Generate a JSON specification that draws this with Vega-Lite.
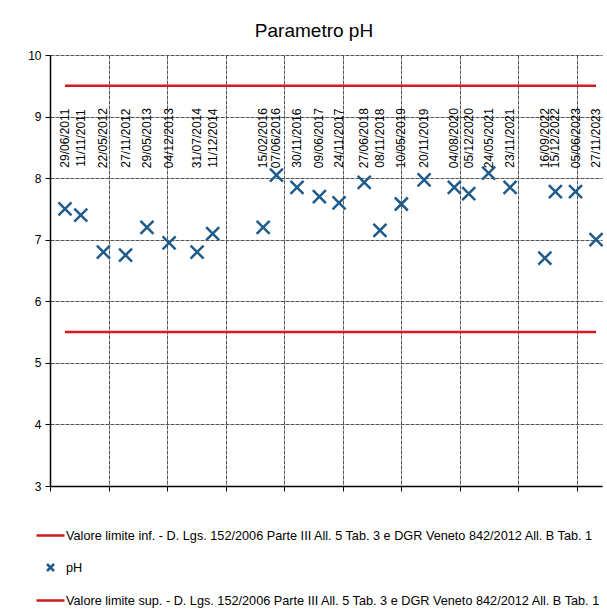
{
  "$schema": "https://vega.github.io/schema/vega-lite/v6.json",
  "width": 552,
  "height": 431,
  "autosize": {"type": "none"},
  "padding": {"left": 50, "top": 55, "right": 5, "bottom": 127},
  "background": "white",
  "title": {"text": "Parametro pH", "fontSize": 19, "font": "Liberation Sans", "fontWeight": "normal", "color": "black", "anchor": "middle", "dx": -12, "baseline": "alphabetic", "offset": 18, "dy": 25},
  "data": {
    "values": [
      {"date": "2011-06-29", "serie": "pH", "valore": 7.5},
      {"date": "2011-11-11", "serie": "pH", "valore": 7.4},
      {"date": "2012-05-22", "serie": "pH", "valore": 6.8},
      {"date": "2012-11-27", "serie": "pH", "valore": 6.75},
      {"date": "2013-05-29", "serie": "pH", "valore": 7.2},
      {"date": "2013-12-04", "serie": "pH", "valore": 6.95},
      {"date": "2014-07-31", "serie": "pH", "valore": 6.8},
      {"date": "2014-12-11", "serie": "pH", "valore": 7.1},
      {"date": "2016-02-15", "serie": "pH", "valore": 7.2},
      {"date": "2016-06-07", "serie": "pH", "valore": 8.05},
      {"date": "2016-11-30", "serie": "pH", "valore": 7.85},
      {"date": "2017-06-09", "serie": "pH", "valore": 7.7},
      {"date": "2017-11-24", "serie": "pH", "valore": 7.6},
      {"date": "2018-06-27", "serie": "pH", "valore": 7.93},
      {"date": "2018-11-08", "serie": "pH", "valore": 7.15},
      {"date": "2019-05-10", "serie": "pH", "valore": 7.58},
      {"date": "2019-11-20", "serie": "pH", "valore": 7.97},
      {"date": "2020-08-04", "serie": "pH", "valore": 7.85},
      {"date": "2020-12-05", "serie": "pH", "valore": 7.75},
      {"date": "2021-05-24", "serie": "pH", "valore": 8.08},
      {"date": "2021-11-23", "serie": "pH", "valore": 7.85},
      {"date": "2022-09-16", "serie": "pH", "valore": 6.7},
      {"date": "2022-12-15", "serie": "pH", "valore": 7.78},
      {"date": "2023-06-05", "serie": "pH", "valore": 7.78},
      {"date": "2023-11-27", "serie": "pH", "valore": 7.0},
      {"date": "2011-06-29", "serie": "Valore limite inf.  - D. Lgs. 152/2006 Parte III All. 5 Tab. 3 e DGR Veneto 842/2012 All. B Tab. 1", "valore": 5.5},
      {"date": "2023-11-27", "serie": "Valore limite inf.  - D. Lgs. 152/2006 Parte III All. 5 Tab. 3 e DGR Veneto 842/2012 All. B Tab. 1", "valore": 5.5},
      {"date": "2011-06-29", "serie": "Valore limite sup.  - D. Lgs. 152/2006 Parte III All. 5 Tab. 3 e DGR Veneto 842/2012 All. B Tab. 1", "valore": 9.5},
      {"date": "2023-11-27", "serie": "Valore limite sup.  - D. Lgs. 152/2006 Parte III All. 5 Tab. 3 e DGR Veneto 842/2012 All. B Tab. 1", "valore": 9.5}
    ],
    "format": {"parse": {"date": "date:'%Y-%m-%d'"}}
  },
  "encoding": {
    "x": {
      "field": "date",
      "type": "temporal",
      "scale": {"domain": [{"year": 2011, "month": 2, "date": 21}, {"year": 2024, "month": 1, "date": 17}]},
      "axis": {
        "title": null,
        "labels": false,
        "grid": true,
        "tickSize": 5,
        "values": [
          {"year": 2011, "month": 2, "date": 21},
          {"year": 2012, "month": 7, "date": 5},
          {"year": 2013, "month": 11, "date": 17},
          {"year": 2015, "month": 4, "date": 1},
          {"year": 2016, "month": 8, "date": 13},
          {"year": 2017, "month": 12, "date": 26},
          {"year": 2019, "month": 5, "date": 10},
          {"year": 2020, "month": 9, "date": 21},
          {"year": 2022, "month": 2, "date": 3},
          {"year": 2023, "month": 6, "date": 18}
        ]
      }
    },
    "y": {
      "field": "valore",
      "type": "quantitative",
      "scale": {"domain": [3, 10], "nice": false, "zero": false},
      "axis": {"title": null, "values": [3, 4, 5, 6, 7, 8, 9, 10], "grid": true, "tickSize": 5, "labelPadding": 4, "labelFontSize": 12}
    }
  },
  "layer": [
    {
      "transform": [{"filter": "datum.serie != 'pH'"}],
      "mark": {"type": "line", "strokeWidth": 2.5},
      "encoding": {
        "color": {
          "field": "serie",
          "type": "nominal",
          "scale": {
            "domain": [
              "Valore limite inf.  - D. Lgs. 152/2006 Parte III All. 5 Tab. 3 e DGR Veneto 842/2012 All. B Tab. 1",
              "pH",
              "Valore limite sup.  - D. Lgs. 152/2006 Parte III All. 5 Tab. 3 e DGR Veneto 842/2012 All. B Tab. 1"
            ],
            "range": ["#d41920", "#1f5c8c", "#d41920"]
          },
          "legend": {"title": null, "orient": "none", "legendX": -15, "legendY": 465, "direction": "vertical"}
        }
      }
    },
    {
      "transform": [{"filter": "datum.serie == 'pH'"}],
      "mark": {"type": "point", "filled": false, "strokeWidth": 2.5, "size": 2704, "opacity": 1},
      "encoding": {
        "color": {"field": "serie", "type": "nominal"},
        "shape": {
          "field": "serie",
          "type": "nominal",
          "scale": {
            "domain": [
              "Valore limite inf.  - D. Lgs. 152/2006 Parte III All. 5 Tab. 3 e DGR Veneto 842/2012 All. B Tab. 1",
              "pH",
              "Valore limite sup.  - D. Lgs. 152/2006 Parte III All. 5 Tab. 3 e DGR Veneto 842/2012 All. B Tab. 1"
            ],
            "range": ["M-1,0L1,0", "M-0.25,-0.25L0.25,0.25M-0.25,0.25L0.25,-0.25", "M-1,0L1,0"]
          },
          "legend": {"title": null, "orient": "none", "legendX": -15, "legendY": 465, "direction": "vertical"}
        }
      }
    },
    {
      "transform": [{"filter": "datum.serie == 'pH'"}],
      "mark": {"type": "text", "angle": 270, "align": "center", "baseline": "middle", "fontSize": 12, "font": "Liberation Sans", "color": "black"},
      "encoding": {
        "y": {"datum": 8.65},
        "text": {"field": "date", "type": "temporal", "format": "%d/%m/%Y"}
      }
    }
  ],
  "config": {
    "view": {"stroke": null},
    "font": "Liberation Sans",
    "axis": {
      "domainColor": "black",
      "domainWidth": 1.5,
      "tickColor": "black",
      "tickWidth": 1,
      "gridColor": "#555",
      "gridDash": [4, 1],
      "gridWidth": 1,
      "labelColor": "black",
      "labelFont": "Liberation Sans"
    },
    "legend": {
      "symbolSize": 784,
      "symbolStrokeWidth": 2.5,
      "labelFontSize": 12.7,
      "labelFont": "Liberation Sans",
      "labelColor": "black",
      "labelLimit": 700,
      "labelOffset": 0,
      "rowPadding": 9,
      "padding": 0
    }
  }
}
